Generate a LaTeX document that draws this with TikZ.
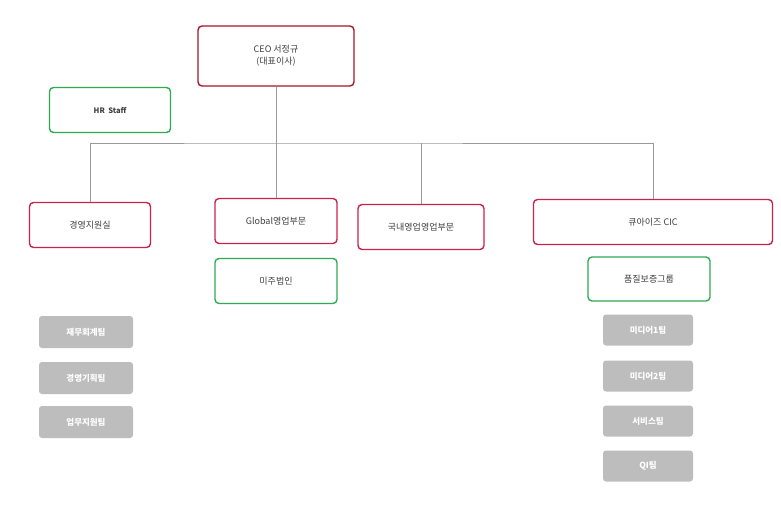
\documentclass[tikz,border=0pt]{standalone}
\usepackage{fontspec}
\setmainfont{Noto Sans CJK KR}
\usetikzlibrary{positioning}
\definecolor{ceored}{HTML}{A3162C}
\definecolor{deptred}{HTML}{C8234F}
\definecolor{teamgreen}{HTML}{2EAA55}
\definecolor{cellgray}{HTML}{BDBDBD}
\definecolor{linegray}{HTML}{9A9A9A}
\begin{document}
\begin{tikzpicture}[x=1pt,y=-1pt,
  box/.style={draw,line width=1.4pt,rounded corners=4pt,fill=white,align=center,
    text=black!75,font=\fontsize{9}{12}\selectfont,inner sep=0pt},
  ceo/.style={box,draw=ceored,minimum width=156,minimum height=60},
  dept/.style={box,draw=deptred,minimum width=121,minimum height=45},
  team/.style={box,draw=teamgreen,minimum width=121,minimum height=45},
  cell/.style={rounded corners=3pt,fill=cellgray,text=white,font=\bfseries\fontsize{8.5}{10}\selectfont,
    minimum width=94,minimum height=32,inner sep=0pt},
  link/.style={draw=linegray,line width=0.8pt}]
\useasboundingbox[fill=white] (0,0) rectangle (781,517);

% top
\node[ceo] (CEO) at (276,56) {CEO 서정규\\(대표이사)};
\node[team,font=\bfseries\fontsize{7.5}{10}\selectfont] (HR) at (110,110) {HR\ \ Staff};

% departments
\node[dept] (MGT) at (90,225) {경영지원실};
\node[dept,minimum width=122] (GLB) at (276,221) {Global영업부문};
\node[dept,minimum width=126] (DOM) at (421,227) {국내영업영업부문};
\node[dept,minimum width=239] (CIC) at (653,222) {큐아이즈 CIC};
\node[team,minimum width=122] (USA) at (276,281) {미주법인};
\node[team,minimum width=122,minimum height=44] (QA) at (649,279) {품질보증그룹};

% tree
\coordinate (J) at (276,143);
\draw[link] (CEO.south) -- (J);
\draw[link] (MGT.north) |- (J) -| (CIC.north);
\draw[link] (GLB.north) -- (J);
\draw[link] (DOM.north) -- (421,143);

% teams
\node[cell] (T1) at (86,332) {재무회계팀};
\node[cell] (T2) at (86,378) {경영기획팀};
\node[cell] (T3) at (86,422) {업무지원팀};
\node[cell,minimum width=90,minimum height=31] (C1) at (648,330) {미디어1팀};
\node[cell,minimum width=90,minimum height=31] (C2) at (648,376) {미디어2팀};
\node[cell,minimum width=90,minimum height=31] (C3) at (648,421) {서비스팀};
\node[cell,minimum width=90,minimum height=31] (C4) at (648,466) {QI팀};
\end{tikzpicture}
\end{document}
